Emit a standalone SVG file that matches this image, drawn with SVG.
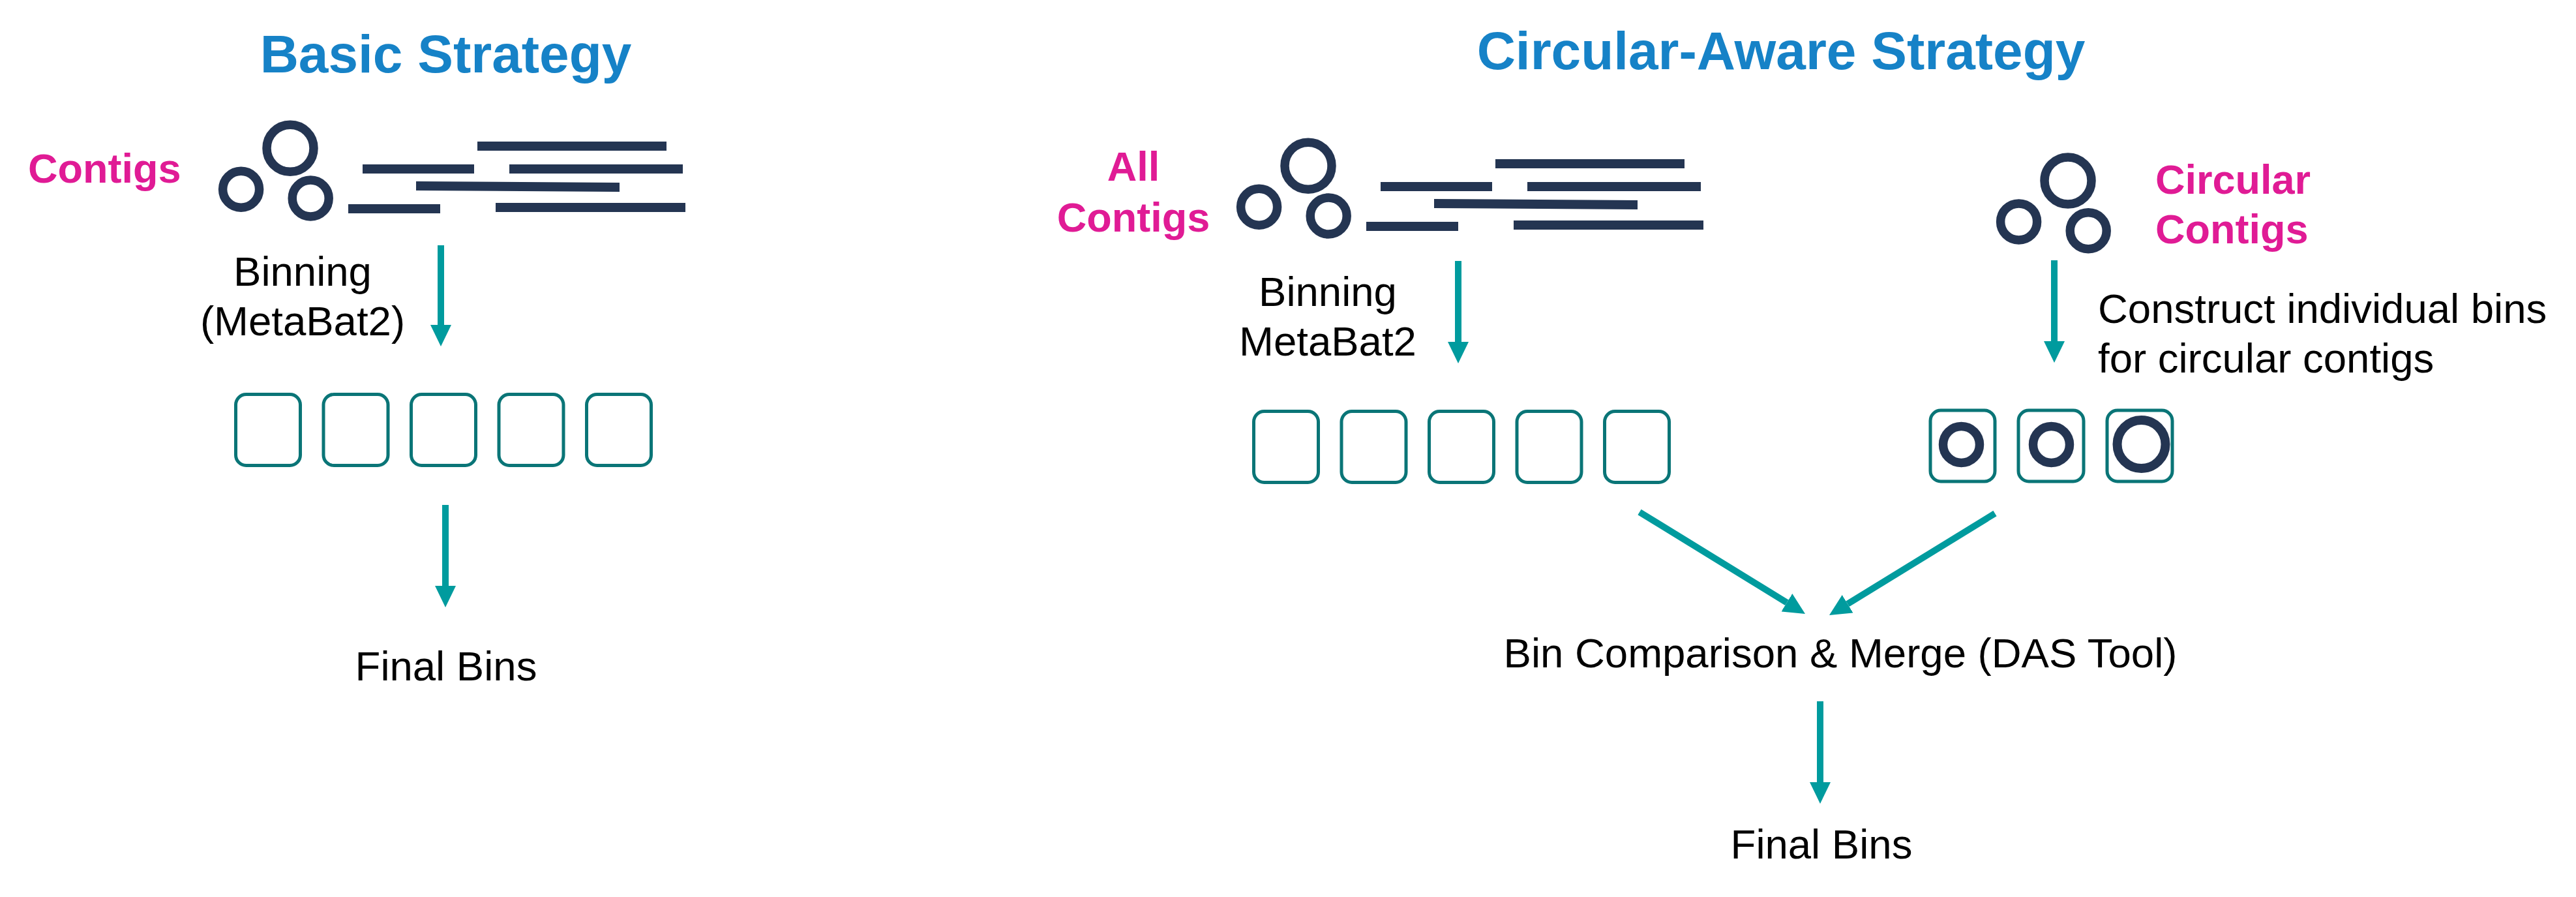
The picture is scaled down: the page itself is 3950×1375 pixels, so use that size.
<svg xmlns="http://www.w3.org/2000/svg" xmlns:xlink="http://www.w3.org/1999/xlink" width="3950" height="1375" viewBox="0 0 3950 1375">
<style>
.ring{fill:none;stroke:#243552;stroke-width:13.5}
.bar{fill:#243552}
.bin{fill:none;stroke:#0A7577;stroke-width:5}
.conn{fill:none;stroke:#009B9E;stroke-width:10;stroke-linecap:butt;marker-end:url(#ah)}
.title{font-family:"Liberation Sans",Arial,sans-serif;font-weight:bold;font-size:82px;fill:#1682C7;text-anchor:middle}
.mag{font-family:"Liberation Sans",Arial,sans-serif;font-weight:bold;font-size:63px;fill:#E01B95}
.txt{font-family:"Liberation Sans",Arial,sans-serif;font-size:63.5px;fill:#000}
.mid{text-anchor:middle}
</style>
<defs>
<marker id="ah" viewBox="0 0 33 32" refX="0" refY="16" markerWidth="33" markerHeight="32" markerUnits="userSpaceOnUse" orient="auto"><path d="M0,0 L33,16 L0,32 Z" fill="#009B9E"/></marker>
<g id="circles"><circle class="ring" cx="0" cy="0" r="36"/><circle class="ring" cx="-75.4" cy="62.9" r="28"/><circle class="ring" cx="31.2" cy="76.7" r="28"/></g>
<g id="bars">
<rect class="bar" x="732" y="217" width="290" height="14"/>
<rect class="bar" x="556" y="252" width="171" height="14"/>
<rect class="bar" x="781" y="252" width="266" height="14"/>
<polygon class="bar" points="638,278 950,280 950,294 638,292"/>
<rect class="bar" x="534" y="313" width="141" height="14"/>
<rect class="bar" x="760" y="311" width="291" height="14"/>
</g>
<rect id="bin" class="bin" x="0" y="0" width="99" height="109" rx="16"/>
</defs>
<rect width="3950" height="1375" fill="#fff"/>

<g id="title-basic"><text class="title" x="683.5" y="111">Basic Strategy</text></g>
<g id="contigs-basic">
<text class="mag" x="43" y="280">Contigs</text>
<use xlink:href="#circles" transform="translate(445,227.3)"/>
<use xlink:href="#bars"/>
</g>
<g id="label-binning-basic">
<text class="txt mid" x="464" y="437.5">Binning</text>
<text class="txt mid" x="464" y="514">(MetaBat2)</text>
</g>
<g id="bins-basic">
<use xlink:href="#bin" x="361.5" y="604.5"/>
<use xlink:href="#bin" x="496" y="604.5"/>
<use xlink:href="#bin" x="630.5" y="604.5"/>
<use xlink:href="#bin" x="765" y="604.5"/>
<use xlink:href="#bin" x="899.5" y="604.5"/>
</g>
<g id="final-basic"><text class="txt mid" x="684" y="1043">Final Bins</text></g>

<g id="title-circular"><text class="title" x="2731" y="106">Circular-Aware Strategy</text></g>
<g id="contigs-all">
<text class="mag mid" x="1738" y="277">All</text>
<text class="mag mid" x="1738" y="355">Contigs</text>
<use xlink:href="#circles" transform="translate(2006,254.3)"/>
<use xlink:href="#bars" transform="translate(1561,27)"/>
</g>
<g id="label-binning-all">
<text class="txt mid" x="2036" y="468.6">Binning</text>
<text class="txt mid" x="2036" y="545">MetaBat2</text>
</g>
<g id="bins-all">
<use xlink:href="#bin" x="1922.5" y="630.5"/>
<use xlink:href="#bin" x="2057" y="630.5"/>
<use xlink:href="#bin" x="2191.5" y="630.5"/>
<use xlink:href="#bin" x="2326" y="630.5"/>
<use xlink:href="#bin" x="2460.5" y="630.5"/>
</g>
<g id="contigs-circular">
<use xlink:href="#circles" transform="translate(3171,277)"/>
<text class="mag" x="3305" y="297">Circular</text>
<text class="mag" x="3305" y="373">Contigs</text>
</g>
<g id="label-construct">
<text class="txt" x="3217" y="495">Construct individual bins</text>
<text class="txt" x="3217" y="571">for circular contigs</text>
</g>
<g id="bins-circular">
<rect class="bin" x="2960" y="629" width="99" height="109" rx="16"/>
<rect class="bin" x="3095" y="629" width="100" height="109" rx="16"/>
<rect class="bin" x="3231" y="629" width="100" height="109" rx="16"/>
<circle class="ring" cx="3007.5" cy="681.5" r="28"/>
<circle class="ring" cx="3145.5" cy="681.5" r="28"/>
<circle class="ring" cx="3283.5" cy="681" r="37" style="stroke-width:14"/>
</g>
<g id="merge"><text class="txt mid" x="2822" y="1023">Bin Comparison &amp; Merge (DAS Tool)</text></g>
<g id="final-circular"><text class="txt mid" x="2793" y="1316">Final Bins</text></g>

<g id="connectors">
<line class="conn" x1="676" y1="376" x2="676" y2="498"/>
<line class="conn" x1="683" y1="774" x2="683" y2="898"/>
<line class="conn" x1="2236" y1="400" x2="2236" y2="524"/>
<line class="conn" x1="3150" y1="399" x2="3150" y2="523"/>
<line class="conn" x1="2514" y1="785" x2="2739.9" y2="923.7"/>
<line class="conn" x1="3059" y1="787" x2="2833.1" y2="925.7"/>
<line class="conn" x1="2791" y1="1075" x2="2791" y2="1199"/>
</g>
</svg>
